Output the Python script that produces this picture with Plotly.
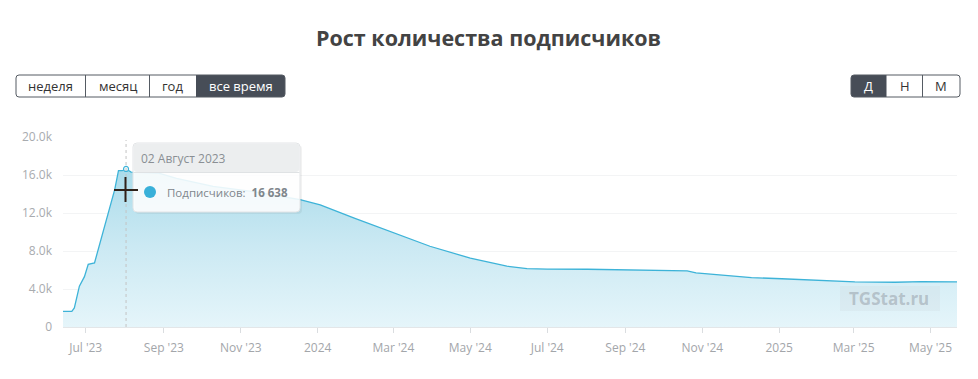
import plotly.graph_objects as go

# ---------------- data ----------------
dates = ["2023-06-13", "2023-06-20", "2023-06-22", "2023-06-26", "2023-06-30", "2023-07-03",
         "2023-07-08", "2023-07-09", "2023-07-20", "2023-07-24", "2023-07-27", "2023-07-30",
         "2023-08-02", "2023-08-06", "2023-08-28", "2023-09-11", "2023-10-10", "2023-11-11",
         "2023-12-18", "2024-01-03", "2024-01-30", "2024-03-01", "2024-03-30", "2024-05-01",
         "2024-05-30", "2024-06-15", "2024-07-01", "2024-08-02", "2024-09-13", "2024-09-29",
         "2024-10-20", "2024-10-27", "2024-11-16", "2024-12-10", "2025-01-03", "2025-02-04",
         "2025-03-02", "2025-04-03", "2025-04-24", "2025-05-22"]
subscribers = [1650, 1650, 2000, 4300, 5300, 6600,
               6750, 7250, 12700, 14450, 16450, 16450,
               16638, 16300, 16200, 15650, 14800, 14250,
               13400, 12850, 11450, 9950, 8500, 7250,
               6400, 6150, 6100, 6080, 5970, 5990,
               5900, 5700, 5450, 5200, 5080, 4880,
               4750, 4710, 4770, 4740]

x_tick_vals = ["2023-07-01", "2023-09-01", "2023-11-01", "2024-01-01", "2024-03-01", "2024-05-01",
               "2024-07-01", "2024-09-01", "2024-11-01", "2025-01-01", "2025-03-01", "2025-05-01"]
x_tick_text = ["Jul '23", "Sep '23", "Nov '23", "2024", "Mar '24", "May '24",
               "Jul '24", "Sep '24", "Nov '24", "2025", "Mar '25", "May '25"]
y_tick_vals = [0, 4000, 8000, 12000, 16000, 20000]
y_tick_text = ["0", "4.0k", "8.0k", "12.0k", "16.0k", "20.0k"]

title_text = "Рост количества подписчиков"
period_buttons = ["неделя", "месяц", "год", "все время"]
scale_buttons = ["Д", "Н", "М"]
hover_date = "2023-08-02"
hover_label = "02 Август 2023"
hover_value_text = "16 638"
hover_value = 16638
watermark_text = "TGStat.ru"

# ---------------- geometry helpers (screen pixels; page body has an 8px margin) ----------------
OFF = 8
SW, SH = 978, 379
W, H = SW - OFF, SH - OFF
PL, PT, PR, PB = 63, 137, 957, 327          # plot area on screen
L, T = PL - OFF, PT - OFF
R = W - (PR - OFF)
B = H - (PB - OFF)
PW, PH = PR - PL, PB - PT


def px(x):
    return (x - PL) / PW


def py(y):
    return (PB - y) / PH


def rpath(x0, y0, x1, y1, rl, rr):
    p = [f"M {px(x0 + rl)},{py(y0)}", f"L {px(x1 - rr)},{py(y0)}"]
    if rr:
        p.append(f"Q {px(x1)},{py(y0)} {px(x1)},{py(y0 + rr)}")
    p.append(f"L {px(x1)},{py(y1 - rr)}")
    if rr:
        p.append(f"Q {px(x1)},{py(y1)} {px(x1 - rr)},{py(y1)}")
    p.append(f"L {px(x0 + rl)},{py(y1)}")
    if rl:
        p.append(f"Q {px(x0)},{py(y1)} {px(x0)},{py(y1 - rl)}")
    p.append(f"L {px(x0)},{py(y0 + rl)}")
    if rl:
        p.append(f"Q {px(x0)},{py(y0)} {px(x0 + rl)},{py(y0)}")
    p.append("Z")
    return " ".join(p)


LINE = "#3db3d8"
DARK = "#474d57"
FONT = "Open Sans"

fig = go.Figure()
fig.add_trace(go.Scatter(
    x=dates, y=subscribers, mode="lines",
    line=dict(color=LINE, width=1.3),
    fill="tozeroy",
    fillgradient=dict(type="vertical", start=0, stop=17000,
                      colorscale=[[0, "#e5f5fa"], [0.5, "#cbe9f3"], [1, "#a9dbea"]]),
    hoverinfo="skip", showlegend=False,
))
fig.add_trace(go.Scatter(
    x=[hover_date], y=[hover_value], mode="markers",
    marker=dict(size=5, color="white", line=dict(color=LINE, width=1.2)),
    hoverinfo="skip", showlegend=False,
))

shapes = []
annotations = []

# dashed crosshair
shapes.append(dict(type="line", xref="x", yref="paper", x0=hover_date, x1=hover_date,
                   y0=0, y1=py(140), line=dict(color="#c4c4c4", width=1, dash="dot"), layer="above"))

# tooltip
shapes.append(dict(type="path", xref="paper", yref="paper", path=rpath(135, 145, 302, 214, 4, 4),
                   fillcolor="rgba(0,0,0,0.05)", line=dict(width=0), layer="above"))
shapes.append(dict(type="path", xref="paper", yref="paper", path=rpath(133, 143, 300, 212, 4, 4),
                   fillcolor="rgba(255,255,255,0.88)", line=dict(color="#e2e4e6", width=1), layer="above"))
shapes.append(dict(type="path", xref="paper", yref="paper", path=rpath(133.5, 143.5, 299.5, 172, 4, 4),
                   fillcolor="#eceeef", line=dict(width=0), layer="above"))
shapes.append(dict(type="line", xref="paper", yref="paper", x0=px(133.5), x1=px(299.5),
                   y0=py(172.5), y1=py(172.5), line=dict(color="#dfe2e4", width=1), layer="above"))
shapes.append(dict(type="circle", xref="paper", yref="paper", x0=px(144), x1=px(156),
                   y0=py(186), y1=py(198), fillcolor="#39b0d9", line=dict(width=0), layer="above"))
annotations.append(dict(text=hover_label, xref="paper", yref="paper", x=px(139), y=py(158),
                        xanchor="left", yanchor="middle", showarrow=False,
                        font=dict(family=FONT, size=12, color="#8a8f94")))
annotations.append(dict(text=f"Подписчиков:&nbsp;&nbsp;<b>{hover_value_text}</b>", xref="paper", yref="paper",
                        x=px(165), y=py(192), xanchor="left", yanchor="middle", showarrow=False,
                        font=dict(family=FONT, size=11.5, color="#80868c")))

# mouse cursor cross
shapes.append(dict(type="line", xref="paper", yref="paper", x0=px(114), x1=px(138), y0=py(190), y1=py(190),
                   line=dict(color="#2e2119", width=2), layer="above"))
shapes.append(dict(type="line", xref="paper", yref="paper", x0=px(125.5), x1=px(125.5), y0=py(177), y1=py(202),
                   line=dict(color="#2e2119", width=2), layer="above"))

# period buttons
bx = [16, 85.5, 149.5, 196, 285]
by0, by1 = 75, 97
shapes.append(dict(type="path", xref="paper", yref="paper", path=rpath(bx[3], by0, bx[4], by1, 0, 3),
                   fillcolor=DARK, line=dict(width=0), layer="above"))
shapes.append(dict(type="path", xref="paper", yref="paper", path=rpath(bx[0], by0, bx[4], by1, 3, 3),
                   fillcolor="rgba(0,0,0,0)", line=dict(color="#555b63", width=1), layer="above"))
for xd in bx[1:3]:
    shapes.append(dict(type="line", xref="paper", yref="paper", x0=px(xd), x1=px(xd), y0=py(by0), y1=py(by1),
                       line=dict(color="#555b63", width=1), layer="above"))
for i, lab in enumerate(period_buttons):
    annotations.append(dict(text=lab, xref="paper", yref="paper", x=px((bx[i] + bx[i + 1]) / 2), y=py(86),
                            xanchor="center", yanchor="middle", showarrow=False,
                            font=dict(family=FONT, size=13, color="white" if i == 3 else "#333")))

# scale buttons
sx = [851, 886.5, 922.5, 960]
shapes.append(dict(type="path", xref="paper", yref="paper", path=rpath(sx[0], by0, sx[1], by1, 3, 0),
                   fillcolor=DARK, line=dict(width=0), layer="above"))
shapes.append(dict(type="path", xref="paper", yref="paper", path=rpath(sx[0], by0, sx[3], by1, 3, 3),
                   fillcolor="rgba(0,0,0,0)", line=dict(color="#555b63", width=1), layer="above"))
shapes.append(dict(type="line", xref="paper", yref="paper", x0=px(sx[2]), x1=px(sx[2]), y0=py(by0), y1=py(by1),
                   line=dict(color="#555b63", width=1), layer="above"))
for i, lab in enumerate(scale_buttons):
    annotations.append(dict(text=lab, xref="paper", yref="paper", x=px((sx[i] + sx[i + 1]) / 2), y=py(86),
                            xanchor="center", yanchor="middle", showarrow=False,
                            font=dict(family=FONT, size=13, color="white" if i == 0 else "#333")))

# title
annotations.append(dict(text=f"<b>{title_text}</b>", xref="paper", yref="paper", x=px(488.5), y=py(38),
                        xanchor="center", yanchor="middle", showarrow=False,
                        font=dict(family=FONT, size=21.5, color="#434343")))

# faint (blurred in the reference) watermark
shapes.append(dict(type="rect", xref="paper", yref="paper", x0=px(840), x1=px(940), y0=py(286), y1=py(311),
                   fillcolor="rgba(200,205,212,0.18)", line=dict(width=0), layer="above"))
annotations.append(dict(text=f"<b>{watermark_text}</b>", xref="paper", yref="paper",
                        x=px(889), y=py(298), xanchor="center", yanchor="middle", showarrow=False,
                        font=dict(family=FONT, size=17, color="rgba(125,130,140,0.40)")))

fig.update_layout(
    width=W, height=H,
    margin=dict(l=L, r=R, t=T, b=B, pad=0),
    paper_bgcolor="white", plot_bgcolor="white",
    shapes=shapes, annotations=annotations,
    xaxis=dict(range=[dates[0], dates[-1]], tickvals=x_tick_vals, ticktext=x_tick_text,
               showgrid=False, zeroline=False, showline=True, linecolor="#e3e6e8", linewidth=1,
               ticks="outside", ticklen=5, tickcolor="#dadde0", tickwidth=1,
               tickfont=dict(family=FONT, size=12, color="#a3a6aa"), ticklabelstandoff=5),
    yaxis=dict(range=[0, 20000], tickvals=y_tick_vals, ticktext=y_tick_text,
               showgrid=True, gridcolor="#f3f4f5", gridwidth=1, zeroline=False, showline=False,
               tickfont=dict(family=FONT, size=12, color="#a8abaf"), ticklabelstandoff=10),
)

fig.write_html("out.html")
